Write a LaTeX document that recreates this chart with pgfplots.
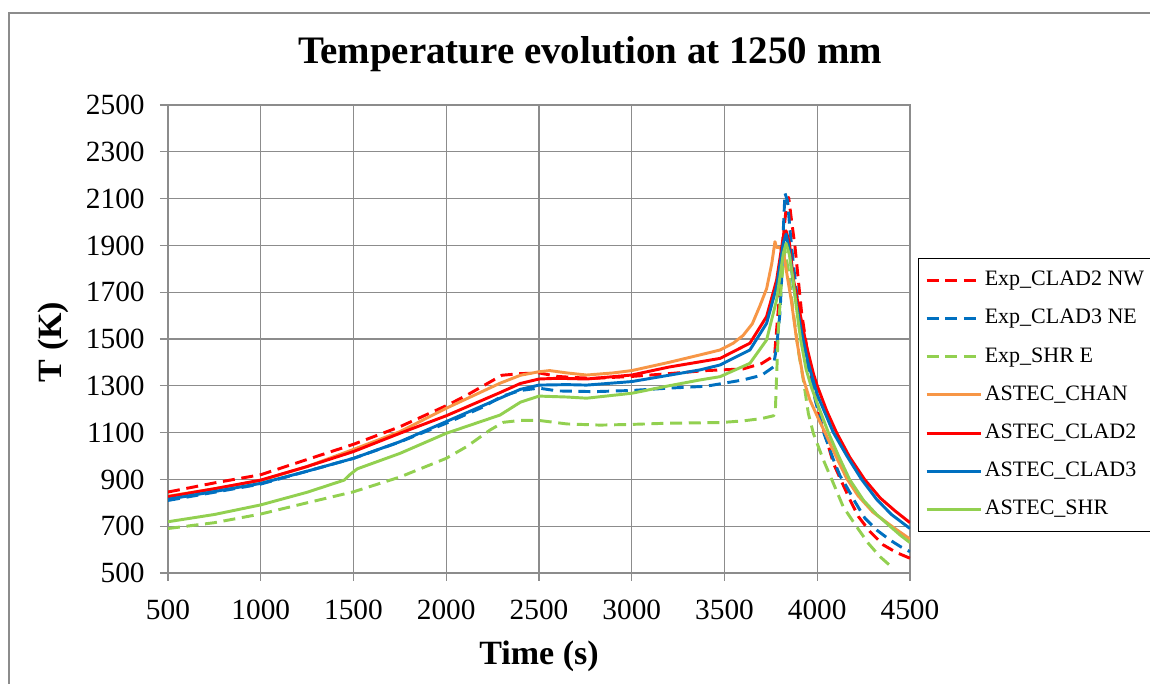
\documentclass[border=0pt]{standalone}
\usepackage{fontspec}
\setmainfont{Liberation Serif}
\usepackage{pgfplots}
\pgfplotsset{compat=1.18}
\definecolor{cred}{HTML}{FF0000}
\definecolor{cblue}{HTML}{0070C0}
\definecolor{cgreen}{HTML}{92D050}
\definecolor{corange}{HTML}{F79646}
\definecolor{gridgray}{HTML}{8C8C8C}

\begin{document}
\begin{tikzpicture}[x=0.75pt,y=0.75pt]
\useasboundingbox (0,0) rectangle (1150,684);
\draw[gridgray, line width=1pt] (9,0) -- (9,671) -- (1150,671);
\node[font=\fontsize{29.2}{33}\bfseries\selectfont, anchor=base] at (590,620) {Temperature evolution at 1250 mm};
\node[font=\fontsize{25.5}{29}\bfseries\selectfont, anchor=base] at (539,19) {Time (s)};
\node[font=\fontsize{25.5}{29}\bfseries\selectfont, anchor=base, rotate=90] at (62,342) {T (K)};
\begin{axis}[
  at={(126pt,83.25pt)}, anchor=south west,
  scale only axis, width=556.5pt, height=351pt,
  xmin=500, xmax=4500, ymin=500, ymax=2500,
  xtick={500,1000,...,4500}, ytick={500,700,...,2500},
  xtick pos=bottom, ytick pos=left,
  grid=major, grid style={gridgray, line width=1pt},
  axis line style={gridgray, line width=1pt},
  tick style={gridgray, line width=1pt},
  tick align=outside, major tick length=6pt,
  ticklabel style={font=\fontsize{22}{26}\selectfont, text=black},
  yticklabel style={xshift=-8pt},
  xticklabel style={yshift=-11pt},
  /pgf/number format/assume math mode=true,
  /pgf/number format/1000 sep={},
  scaled ticks=false,
  legend style={at={(1.0108,0.673)}, anchor=north west, draw=black, line width=0.75pt,
    font=\fontsize{16.5}{19}\selectfont, row sep=8.6pt, inner xsep=5pt, inner ysep=6.5pt,
    cells={anchor=west}, nodes={text height=12pt, text depth=4pt, inner sep=2pt}},
  legend cell align=left,
  legend image code/.code={\draw[#1] (0pt,0pt) -- (40.5pt,0pt);},
  every axis plot/.append style={line width=2.2pt, line join=round},
  dashpat/.style={dash pattern=on 9pt off 5pt},
]
\addplot[cred, dashpat] coordinates {
(500,846) (750,885) (1000,920) (1250,985) (1500,1050) (1750,1125) (2000,1215)
(2100,1255) (2200,1300) (2300,1345) (2400,1352) (2500,1355) (2600,1340) (2700,1335)
(2800,1332) (3000,1340) (3200,1352) (3400,1365) (3600,1372) (3700,1395) (3750,1420)
(3770,1430) (3780,1530) (3800,1720) (3820,1960) (3835,2080) (3846,2105) (3861,2009)
(3880,1895) (3898,1752) (3916,1610) (3943,1467) (3970,1325) (4006,1182) (4050,1070)
(4087,969) (4131,891) (4177,812) (4222,741) (4284,677) (4356,620) (4428,587) (4500,563)};
\addlegendentry{Exp\_CLAD2 NW}
\addplot[cblue, dashpat] coordinates {
(500,810) (750,845) (1000,880) (1250,935) (1500,990) (1750,1060) (2000,1140)
(2200,1210) (2300,1255) (2400,1280) (2500,1290) (2600,1278) (2800,1275) (3000,1280)
(3200,1290) (3400,1298) (3600,1325) (3700,1345) (3763,1380) (3781,1467) (3799,1610)
(3808,1752) (3817,1966) (3826,2123) (3840,2090) (3853,1966) (3871,1823) (3900,1620)
(3940,1430) (3980,1270) (4030,1110) (4087,985) (4123,915) (4158,869) (4203,805)
(4257,734) (4320,684) (4392,641) (4450,612) (4500,591)};
\addlegendentry{Exp\_CLAD3 NE}
\addplot[cgreen, dashpat] coordinates {
(500,690) (750,715) (1000,752) (1250,800) (1500,847) (1750,910) (2000,990)
(2110,1040) (2236,1111) (2308,1144) (2400,1152) (2500,1152) (2650,1137) (2830,1132)
(3000,1135) (3190,1140) (3480,1143) (3600,1150) (3700,1160) (3765,1172) (3774,1190)
(3790,1538) (3808,1752) (3826,1880) (3845,1790) (3870,1620) (3900,1440) (3925,1325)
(3952,1182) (3979,1097) (4033,983) (4087,883) (4140,783) (4212,698) (4275,627)
(4338,570) (4392,532)};
\addlegendentry{Exp\_SHR E}
\addplot[corange] coordinates {
(500,828) (750,860) (1000,895) (1250,955) (1500,1028) (1750,1104) (2000,1204)
(2290,1311) (2400,1345) (2500,1360) (2558,1365) (2650,1355) (2757,1346) (2900,1355)
(3000,1365) (3200,1400) (3368,1432) (3476,1453) (3547,1482) (3600,1515) (3650,1565)
(3690,1640) (3727,1715) (3755,1823) (3772,1916) (3780,1892) (3800,1890) (3820,1860)
(3840,1760) (3861,1660) (3889,1496) (3925,1330) (3960,1240) (4000,1170) (4042,1100)
(4100,1000) (4158,905) (4220,830) (4300,760) (4410,695) (4500,645)};
\addlegendentry{ASTEC\_CHAN}
\addplot[cred] coordinates {
(500,826) (750,860) (1000,897) (1250,955) (1500,1019) (1750,1097) (2000,1172)
(2290,1271) (2400,1310) (2500,1329) (2600,1332) (2757,1329) (3000,1346) (3200,1380)
(3476,1417) (3637,1482) (3727,1596) (3781,1752) (3817,1937) (3832,1962) (3850,1910)
(3872,1752) (3907,1610) (3943,1467) (3979,1353) (4000,1300) (4050,1195) (4104,1100)
(4175,995) (4255,900) (4340,820) (4420,765) (4500,715)};
\addlegendentry{ASTEC\_CLAD2}
\addplot[cblue] coordinates {
(500,815) (750,848) (1000,883) (1250,935) (1500,990) (1750,1061) (2000,1147)
(2290,1247) (2400,1285) (2500,1303) (2650,1305) (2757,1303) (3000,1318) (3200,1345)
(3368,1368) (3476,1389) (3637,1453) (3727,1567) (3781,1724) (3817,1909) (3832,1948)
(3850,1880) (3870,1740) (3890,1640) (3915,1530) (3950,1400) (4000,1262) (4087,1100)
(4160,1000) (4239,900) (4320,815) (4400,750) (4500,690)};
\addlegendentry{ASTEC\_CLAD3}
\addplot[cgreen] coordinates {
(500,719) (750,750) (1000,791) (1250,845) (1450,897) (1480,920) (1520,945)
(1750,1011) (2000,1097) (2290,1175) (2400,1230) (2500,1256) (2650,1252) (2757,1247)
(3000,1268) (3200,1300) (3368,1325) (3476,1339) (3637,1396) (3727,1496) (3781,1667)
(3817,1866) (3832,1909) (3850,1860) (3870,1750) (3890,1620) (3910,1500) (3940,1370)
(3970,1290) (4000,1225) (4060,1100) (4115,1000) (4174,900) (4250,810) (4320,750)
(4392,700) (4450,660) (4500,630)};
\addlegendentry{ASTEC\_SHR}
\end{axis}
\end{tikzpicture}
\end{document}
